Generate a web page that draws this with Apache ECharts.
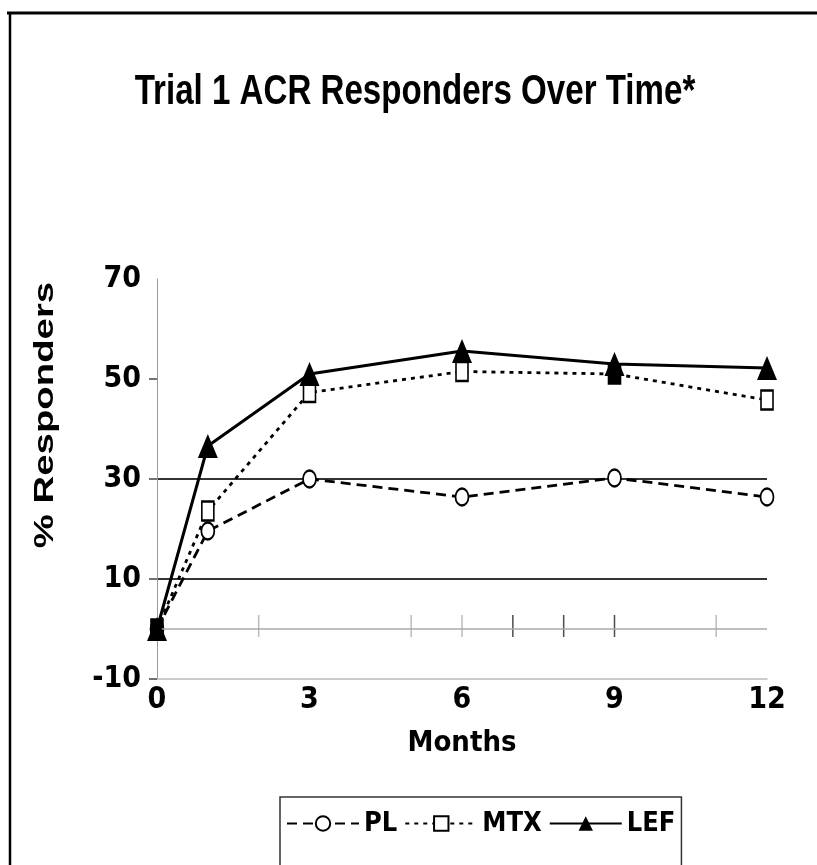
<!DOCTYPE html>
<html>
<head>
<meta charset="utf-8">
<script src="https://cdn.jsdelivr.net/npm/echarts@6/dist/echarts.min.js"></script>
<style>
html,body{margin:0;padding:0;background:#fff;}
#chart{width:817px;height:865px;}
</style>
</head>
<body>
<div id="chart"></div>
<script>
// Data
var months = [0, 1, 3, 6, 9, 12];
var plValues  = [0, 19.6, 30, 26.4, 30.2, 26.4];
var mtxValues = [0, 23.6, 47.3, 51.5, 51, 45.8];
var lefValues = [0, 36.6, 51, 55.6, 53, 52.2];
var seriesNames = ['PL', 'MTX', 'LEF'];
var xTickLabels = [0, 3, 6, 9, 12];
var yTickValues = [-10, 10, 30, 50, 70];
var zeroTickMonths = [2, 5, 6, 7, 8, 9, 11];
var darkZeroTicks = [7, 8, 9];
var mtxFilledMonths = [0, 9];

var NARROW = "'DejaVu Sans Condensed', 'Liberation Sans Narrow', sans-serif";

function pairs(vals) {
  return months.map(function (m, i) { return [m, vals[i]]; });
}

var chart = echarts.init(document.getElementById('chart'), null, {renderer: 'canvas'});

var option = {
  backgroundColor: '#fff',
  animation: false,
  legend: {
    data: seriesNames,
    left: 280,
    top: 797,
    orient: 'horizontal',
    itemWidth: 72,
    itemHeight: 18,
    itemGap: 7,
    padding: [13, 6, 80, 6],
    borderColor: '#333',
    borderWidth: 1.5,
    textStyle: {fontFamily: NARROW, fontSize: 27, fontWeight: 'bold', color: '#000'}
  },
  grid: {left: 157, right: 50, top: 279, bottom: 186, containLabel: false},
  xAxis: {
    type: 'value',
    min: 0,
    max: 12,
    interval: 3,
    axisLine: {onZero: false, lineStyle: {color: '#bbb', width: 1.5}},
    axisTick: {show: false},
    splitLine: {show: false},
    axisLabel: {
      margin: 6,
      fontFamily: NARROW, fontSize: 30, fontWeight: 'bold', color: '#000',
      customValues: xTickLabels
    },
    name: 'Months',
    nameLocation: 'middle',
    nameGap: 50,
    nameTextStyle: {fontFamily: NARROW, fontSize: 29, fontWeight: 'bold', color: '#000'}
  },
  yAxis: {
    type: 'value',
    min: -10,
    max: 70,
    interval: 20,
    axisLine: {show: true, lineStyle: {color: '#999', width: 1}},
    axisTick: {show: true, length: 8, lineStyle: {color: '#444', width: 1.5}, customValues: [-10, 10, 30, 50]},
    axisLabel: {margin: 16, fontFamily: NARROW, fontSize: 30, fontWeight: 'bold', color: '#000', customValues: yTickValues},
    splitLine: {show: true, showMinLine: false, showMaxLine: false, lineStyle: {color: '#333', width: 2}}
  },
  graphic: [
    {type: 'line', shape: {x1: 7, y1: 13, x2: 817, y2: 13}, style: {stroke: '#000', lineWidth: 3}},
    {type: 'line', shape: {x1: 10, y1: 12, x2: 10, y2: 865}, style: {stroke: '#000', lineWidth: 2.5}},
    {
      type: 'text', x: 415, y: 92.5, scaleX: 0.77,
      style: {text: 'Trial 1 ACR Responders Over Time*', fontFamily: 'Liberation Sans', fontWeight: 'bold', fontSize: 43, fill: '#000', align: 'center', verticalAlign: 'middle'}
    },
    {
      type: 'text', x: 46, y: 415, rotation: Math.PI / 2, scaleX: 1.42,
      style: {text: '% Responders', fontFamily: 'Liberation Sans', fontWeight: 'bold', fontSize: 27, fill: '#000', align: 'center', verticalAlign: 'middle'}
    }
  ],
  series: [
    {
      name: 'zeroTicks',
      type: 'scatter',
      silent: true,
      z: 1,
      symbol: 'rect',
      symbolSize: [1.5, 22],
      symbolOffset: [0, -3],
      data: zeroTickMonths.map(function (m) {
        return {value: [m, 0], itemStyle: {color: darkZeroTicks.indexOf(m) >= 0 ? '#222' : '#aaa'}};
      }),
      markLine: {
        silent: true,
        symbol: 'none',
        label: {show: false},
        lineStyle: {color: '#aaa', width: 1.5, type: 'solid'},
        data: [{yAxis: 0}]
      }
    },
    {
      name: 'PL',
      type: 'line',
      z: 3,
      data: pairs(plValues),
      symbol: 'circle',
      symbolSize: [13, 17],
      itemStyle: {color: '#fff', borderColor: '#000', borderWidth: 2},
      lineStyle: {color: '#000', width: 2.8, type: [10, 6]}
    },
    {
      name: 'MTX',
      type: 'line',
      z: 4,
      data: pairs(mtxValues).map(function (p) {
        return mtxFilledMonths.indexOf(p[0]) >= 0 ? {value: p, itemStyle: {color: '#000'}} : p;
      }),
      symbol: 'rect',
      symbolSize: [12, 19],
      itemStyle: {color: '#fff', borderColor: '#000', borderWidth: 2},
      lineStyle: {color: '#000', width: 2.8, type: [4, 5]}
    },
    {
      name: 'LEF',
      type: 'line',
      z: 5,
      data: pairs(lefValues),
      symbol: 'triangle',
      symbolSize: [20, 24],
      itemStyle: {color: '#000', borderColor: '#000', borderWidth: 0},
      lineStyle: {color: '#000', width: 3, type: 'solid'}
    }
  ]
};
chart.setOption(option);
</script>
</body>
</html>
